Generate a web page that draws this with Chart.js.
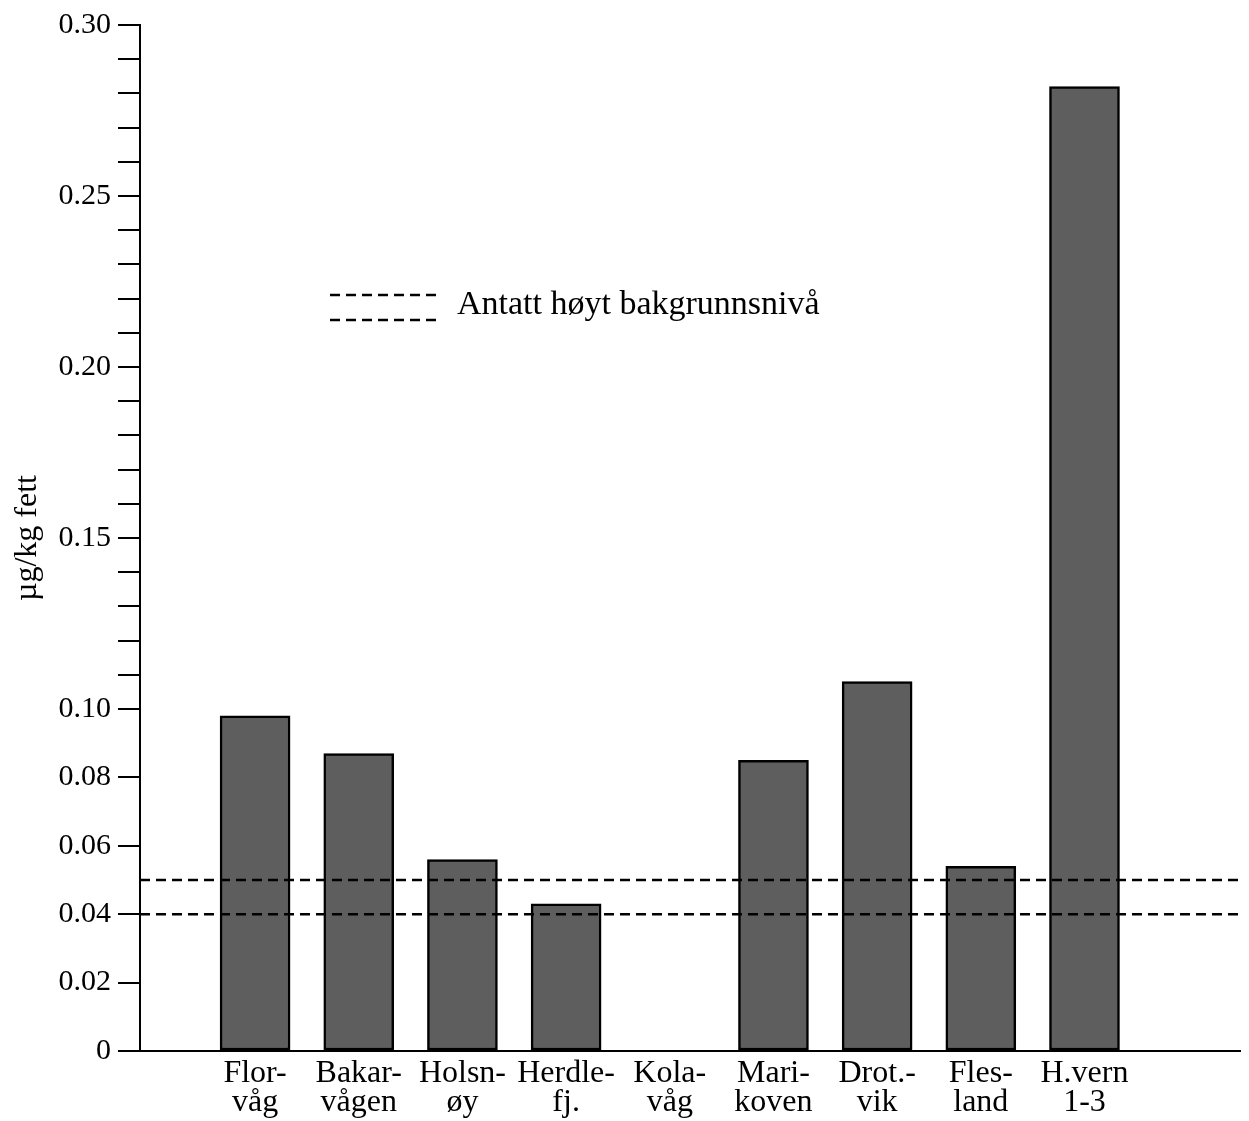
<!DOCTYPE html>
<html>
<head>
<meta charset="utf-8">
<script src="https://cdn.jsdelivr.net/npm/chart.js@4.4.1/dist/chart.umd.min.js"></script>
<style>
html,body{margin:0;padding:0;background:#fff;}
#wrap{width:1249px;height:1121px;position:relative;}
</style>
</head>
<body>
<div id="wrap"><canvas id="c"></canvas></div>
<script>
// ---- data ----
const categories = [["Flor-","våg"],["Bakar-","vågen"],["Holsn-","øy"],["Herdle-","fj."],["Kola-","våg"],["Mari-","koven"],["Drot.-","vik"],["Fles-","land"],["H.vern","1-3"]];
const values = [0.098, 0.087, 0.056, 0.043, null, 0.085, 0.108, 0.054, 0.282];
const backgroundLevels = [0.05, 0.04];
const legendLabel = "Antatt høyt bakgrunnsnivå";
const yAxisTitle = "µg/kg fett";
const yTickValues = [0,0.02,0.04,0.06,0.08,0.10,0.11,0.12,0.13,0.14,0.15,0.16,0.17,0.18,0.19,0.20,0.21,0.22,0.23,0.24,0.25,0.26,0.27,0.28,0.29,0.30];
const yTickLabels = ["0","0.02","0.04","0.06","0.08","0.10","","","","","0.15","","","","","0.20","","","","","0.25","","","","","0.30"];

// ---- layout/style ----
const FONT = "'Liberation Serif', 'Times New Roman', serif";
const X_MIN = -0.11, X_MAX = 10.5;

const barData = values.map((v, i) => ({x: i + 1, y: v}));
const lineSets = backgroundLevels.map(lv => ({
  type: 'line',
  data: [{x: X_MIN, y: lv}, {x: X_MAX, y: lv}],
  borderColor: '#000',
  borderWidth: 2.5,
  borderDash: [10, 6],
  pointRadius: 0,
  fill: false,
  order: -1
}));

const legendPlugin = {
  id: 'legendLines',
  afterDatasetsDraw(chart) {
    const ctx = chart.ctx;
    ctx.save();
    ctx.strokeStyle = '#000';
    ctx.lineWidth = 2.5;
    ctx.setLineDash([10, 6]);
    [295, 320].forEach(y => {
      ctx.beginPath();
      ctx.moveTo(330, y);
      ctx.lineTo(440, y);
      ctx.stroke();
    });
    ctx.setLineDash([]);
    ctx.fillStyle = '#000';
    ctx.font = "34px " + FONT;
    ctx.textBaseline = 'middle';
    ctx.textAlign = 'left';
    ctx.fillText(legendLabel, 457, 305);
    ctx.restore();
  }
};

new Chart(document.getElementById('c'), {
  type: 'bar',
  data: {
    datasets: [
      {
        type: 'bar',
        data: barData,
        backgroundColor: '#5e5e5e',
        borderColor: '#000',
        borderWidth: 2.5,
        borderSkipped: false,
        barThickness: 70,
        order: 1
      },
      ...lineSets
    ]
  },
  options: {
    responsive: true,
    maintainAspectRatio: false,
    animation: false,
    layout: {padding: {top: 20, right: 9, left: 0, bottom: 0}},
    plugins: {legend: {display: false}, tooltip: {enabled: false}},
    scales: {
      x: {
        type: 'linear',
        min: X_MIN,
        max: X_MAX,
        offset: false,
        bounds: 'ticks',
        afterBuildTicks: s => { s.ticks = categories.map((c, i) => ({value: i + 1})); },
        afterFit: s => { s.height = 70; },
        ticks: {
          autoSkip: false,
          maxRotation: 0,
          padding: 8,
          color: '#000',
          font: {family: FONT, size: 32, lineHeight: 0.9},
          callback: (v, i) => categories[i]
        },
        grid: {display: false, drawTicks: false},
        border: {display: true, color: '#000', width: 2}
      },
      y: {
        min: 0,
        max: 0.30,
        afterBuildTicks: s => { s.ticks = yTickValues.map(v => ({value: v})); },
        afterFit: s => { s.width = 140; },
        ticks: {
          autoSkip: false,
          padding: 7,
          color: '#000',
          font: {family: FONT, size: 30},
          callback: (v, i) => yTickLabels[i]
        },
        grid: {drawOnChartArea: false, drawTicks: true, tickLength: 22, color: '#000', lineWidth: 2},
        border: {display: true, color: '#000', width: 2},
        title: {
          display: true,
          text: yAxisTitle,
          color: '#000',
          font: {family: FONT, size: 32},
          padding: {top: 8, bottom: 0}
        }
      }
    }
  },
  plugins: [legendPlugin]
});
</script>
</body>
</html>
